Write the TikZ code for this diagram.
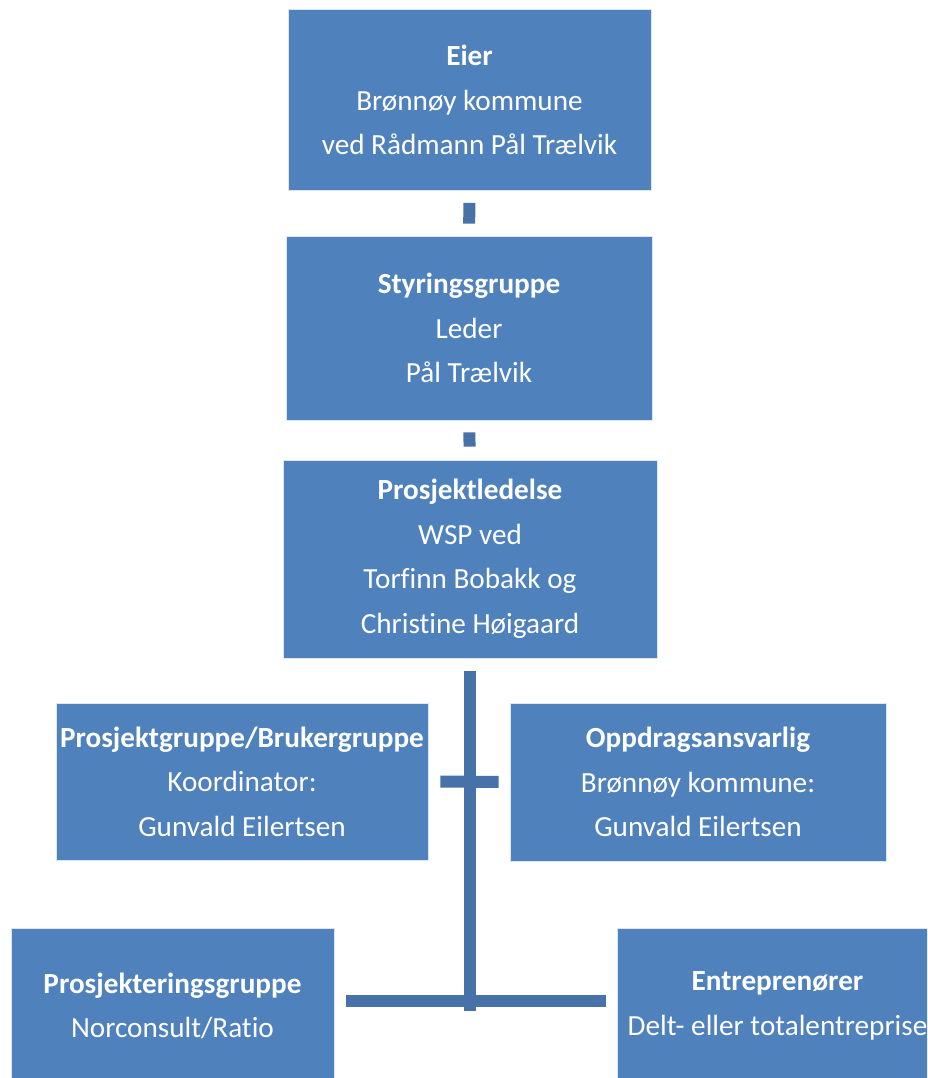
\documentclass[tikz,border=0pt]{standalone}
\usepackage{fontspec}
\setmainfont{Carlito}[Ligatures=NoCommon]
\definecolor{boxblue}{HTML}{4F81BD}
\definecolor{linkblue}{HTML}{4672A8}
\tikzset{
  orgbox/.style={fill=boxblue, draw=white!80!boxblue, line width=0.6pt, text=white,
    align=center, inner sep=0pt, font=\fontsize{29.2}{44.5}\selectfont},
  orgtext/.style={text=white, align=center, inner sep=0pt, font=\fontsize{29.2}{44.5}\selectfont},
  link/.style={draw=linkblue, line width=12pt}
}
\begin{document}
\begin{tikzpicture}[x=1pt,y=-1pt]
\useasboundingbox (0,0) rectangle (927,1078);
\clip (0,0) rectangle (927,1078);
\node[orgbox, minimum width=363, minimum height=181] (eier) at (469.5,100)
  {\textbf{Eier}\\Brønnøy kommune\\ved Rådmann Pål Trælvik};
\node[orgbox, minimum width=366, minimum height=184] (styr) at (469,328)
  {\textbf{Styringsgruppe}\\Leder\\Pål Trælvik};
\node[orgbox, minimum width=374, minimum height=198] (pl) at (470,559)
  {\textbf{Prosjektledelse}\\WSP ved\\Torfinn Bobakk og\\Christine Høigaard};
\node[orgbox, minimum width=372, minimum height=157] (pg) at (242,781.5)
  {\textbf{Prosjektgruppe/Brukergruppe}\\Koordinator:\\Gunvald Eilertsen};
\node[orgbox, minimum width=376, minimum height=158] (oa) at (698,782)
  {\textbf{Oppdragsansvarlig}\\Brønnøy kommune:\\Gunvald Eilertsen};
\node[orgbox, minimum width=323, minimum height=150] (pr) at (172.5,1003) {};
\node[orgtext] (prt) at (172.5,1006) {\textbf{Prosjekteringsgruppe}\\Norconsult/Ratio};
\node[orgbox, minimum width=321, minimum height=150] (en) at (777.5,1003) {};
\node[orgtext] (ent) at (777.5,1006) {\textbf{Entreprenører}\\Delt- eller totalentreprise};
\coordinate (tb) at (470,1011);
\draw[link, shorten <=12pt, shorten >=12pt] (eier) -- (styr);
\draw[link, shorten <=12pt, shorten >=13pt] (styr) -- (pl);
\draw[link, shorten <=13pt] (pl.south) -- (tb);
\draw[link, shorten <=12pt, shorten >=11pt] (pg.east) -- (oa.west);
\draw[link, shorten <=12pt, shorten >=11pt] ([yshift=2pt]pr.east) -- ([yshift=2pt]en.west);
\end{tikzpicture}
\end{document}
